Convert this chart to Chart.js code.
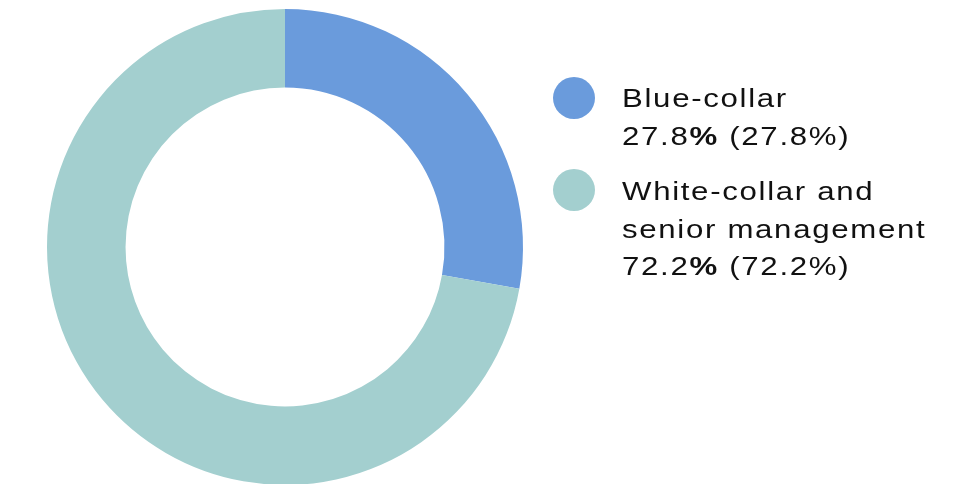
<!DOCTYPE html>
<html>
<head>
<meta charset="utf-8">
<script src="https://cdn.jsdelivr.net/npm/chart.js@4"></script>
<style>
  html, body { margin: 0; padding: 0; background: #fff; overflow: hidden; }
  #wrap { position: absolute; left: 0; top: 9px; width: 570px; height: 476px; }
  #legend { position: absolute; left: 553px; top: 0; font-family: "Liberation Sans", Arial, sans-serif;
            font-size: 26px; line-height: 37.5px; color: #111; letter-spacing: 1.4px; }
  .item { position: absolute; left: 0; white-space: nowrap; }
  .dot { position: absolute; left: 0; width: 42px; height: 42px; border-radius: 50%; }
  .txt { position: absolute; left: 69px; top: 0; transform: scaleX(1.2); transform-origin: 0 0; }
</style>
</head>
<body>
<div id="wrap"><canvas id="donut"></canvas></div>
<div id="legend"></div>
<script>
// categories and values
const labels = [['Blue-collar'], ['White-collar and', 'senior management']];
const values = [27.8, 72.2];
const colors = ['#6a9bdc', '#a3cfcf'];

document.addEventListener('DOMContentLoaded', () => {
    const ctx = document.getElementById('donut');
    new Chart(ctx, {
        type: 'doughnut',
        data: {
            labels: labels.map(l => l.join(' ')),
            datasets: [{
                data: values,
                backgroundColor: colors,
                borderWidth: 0
            }]
        },
        options: {
            responsive: true,
            maintainAspectRatio: false,
            animation: false,
            cutout: '67%',
            layout: { padding: 0 },
            plugins: {
                legend: { display: false },
                tooltip: { enabled: false }
            }
        }
    });

    // legend built from the same arrays
    const total = values.reduce((a, b) => a + b, 0);
    const legend = document.getElementById('legend');
    const tops = [80, 173];
    labels.forEach((lab, i) => {
        const pct = (values[i] / total * 100).toFixed(1);
        const item = document.createElement('div');
        item.className = 'item';
        item.style.top = tops[i] + 'px';
        item.innerHTML =
            '<div class="dot" style="top:' + (i === 0 ? -3 : -4) + 'px;background:' + colors[i] + '"></div>' +
            '<div class="txt">' + lab.join('<br>') + '<br>' +
            values[i].toFixed(1) + '<b>%</b> (' + pct + '%)</div>';
        legend.appendChild(item);
    });
});
</script>
</body>
</html>
